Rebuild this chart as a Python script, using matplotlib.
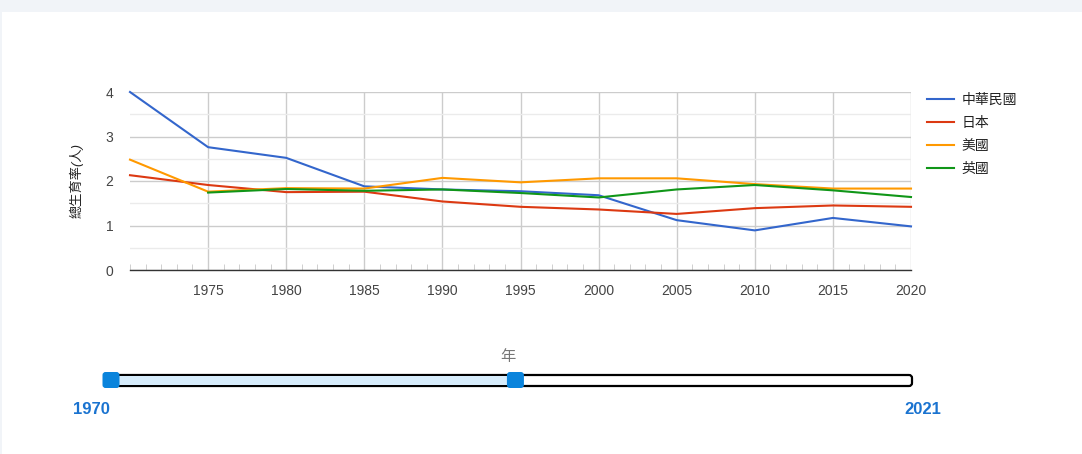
import matplotlib
matplotlib.use('Agg')

import numpy as np
import matplotlib.pyplot as plt
from matplotlib.patches import Rectangle, FancyBboxPatch

plt.rcParams['font.family'] = ['Liberation Sans', 'Noto Sans CJK TC', 'DejaVu Sans']

years = [1970, 1975, 1980, 1985, 1990, 1995, 2000, 2005, 2010, 2015, 2020]
taiwan = [4.00, 2.76, 2.52, 1.88, 1.81, 1.77, 1.68, 1.12, 0.89, 1.17, 0.98]
japan = [2.13, 1.91, 1.75, 1.76, 1.54, 1.42, 1.36, 1.26, 1.39, 1.45, 1.42]
usa = [2.48, 1.76, 1.84, 1.83, 2.07, 1.97, 2.06, 2.06, 1.93, 1.83, 1.83]
uk = [None, 1.74, 1.82, 1.78, 1.81, 1.73, 1.63, 1.81, 1.91, 1.79, 1.64]

series_names = ['中華民國', '日本', '美國', '英國']
series_colors = ['#3366cc', '#dc3912', '#ff9900', '#109618']

slider_min, slider_max = 1970, 2021
slider_sel = (1970, 1995.75)

W, H = 1082, 454
fig = plt.figure(figsize=(W / 100, H / 100), dpi=100)
fig.patch.set_facecolor('white')

# page background strip and slider live on a full-figure pixel canvas
bg = fig.add_axes([0, 0, 1, 1], zorder=0)
bg.set_xlim(0, W)
bg.set_ylim(H, 0)
bg.axis('off')
bg.add_patch(Rectangle((0, 0), W, 12, color='#f1f4f8', lw=0))
bg.add_patch(Rectangle((0, 0), 2, H, color='#f1f4f8', lw=0))

# main chart
ax = fig.add_axes([130 / W, 1 - 270 / H, 781 / W, 178 / H], zorder=1)
ax.patch.set_alpha(0)
data = [taiwan, japan, usa, uk]
for vals, name, col in zip(data, series_names, series_colors):
    v = np.array([np.nan if x is None else x for x in vals], dtype=float)
    ax.plot(years, v, color=col, lw=1.5, label=name, zorder=3, clip_on=False)

ax.set_xlim(1970, 2020)
ax.set_ylim(0, 4)
ax.set_xticks(years[1:])
ax.set_xticks(range(1970, 2021), minor=True)
ax.set_yticks([0, 1, 2, 3, 4])
ax.set_yticks([0.5, 1.5, 2.5, 3.5], minor=True)
ax.grid(True, which='major', axis='both', color='#cccccc', lw=1)
ax.grid(True, which='minor', axis='y', color='#ebebeb', lw=1)
ax.set_axisbelow(True)
for s in ['left', 'right', 'top']:
    ax.spines[s].set_visible(False)
ax.spines['bottom'].set_color('#333333')
ax.spines['bottom'].set_linewidth(1)
ax.tick_params(axis='both', which='major', length=0, colors='#444444', labelsize=10)
ax.tick_params(axis='x', which='major', pad=10)
ax.tick_params(axis='y', which='major', pad=12)
ax.tick_params(axis='x', which='minor', direction='in', length=4, color='#c8c8c8')
ax.tick_params(axis='y', which='minor', length=0)
ax.set_ylabel('總生育率(人)', fontsize=9.5, style='italic', color='#222222', labelpad=16)

leg = ax.legend(loc='upper left', bbox_to_anchor=(1.005, 1.066), frameon=False,
                fontsize=10, handlelength=1.95, handletextpad=0.5, labelspacing=0.65,
                labelcolor='#222222')

# year range slider below the chart
x0, x1 = 111, 912
def sx(yr):
    return x0 + (yr - slider_min) / (slider_max - slider_min) * (x1 - x0)

ty, th = 375, 11
bg.add_patch(FancyBboxPatch((x0, ty), x1 - x0, th, boxstyle='round,pad=0,rounding_size=3',
                            fc='white', ec='black', lw=1.6))
bg.add_patch(Rectangle((sx(slider_sel[0]), ty + 1), sx(slider_sel[1]) - sx(slider_sel[0]), th - 2,
                       fc='#d6ecfb', ec='none'))
for yr in slider_sel:
    cx = sx(yr)
    bg.add_patch(FancyBboxPatch((cx - 8.5, ty - 3), 17, 16, boxstyle='round,pad=0,rounding_size=3',
                                fc='#0a84dc', ec='none', zorder=5))
bg.text(508, 357, '年', fontsize=11, color='#777777', ha='center', va='center')
bg.text(91, 409, str(slider_min), fontsize=12, fontweight='bold', color='#1a73d0', ha='center', va='center')
bg.text(923, 409, str(slider_max), fontsize=12, fontweight='bold', color='#1a73d0', ha='center', va='center')

fig.savefig('out.png', dpi=100, facecolor='white')
